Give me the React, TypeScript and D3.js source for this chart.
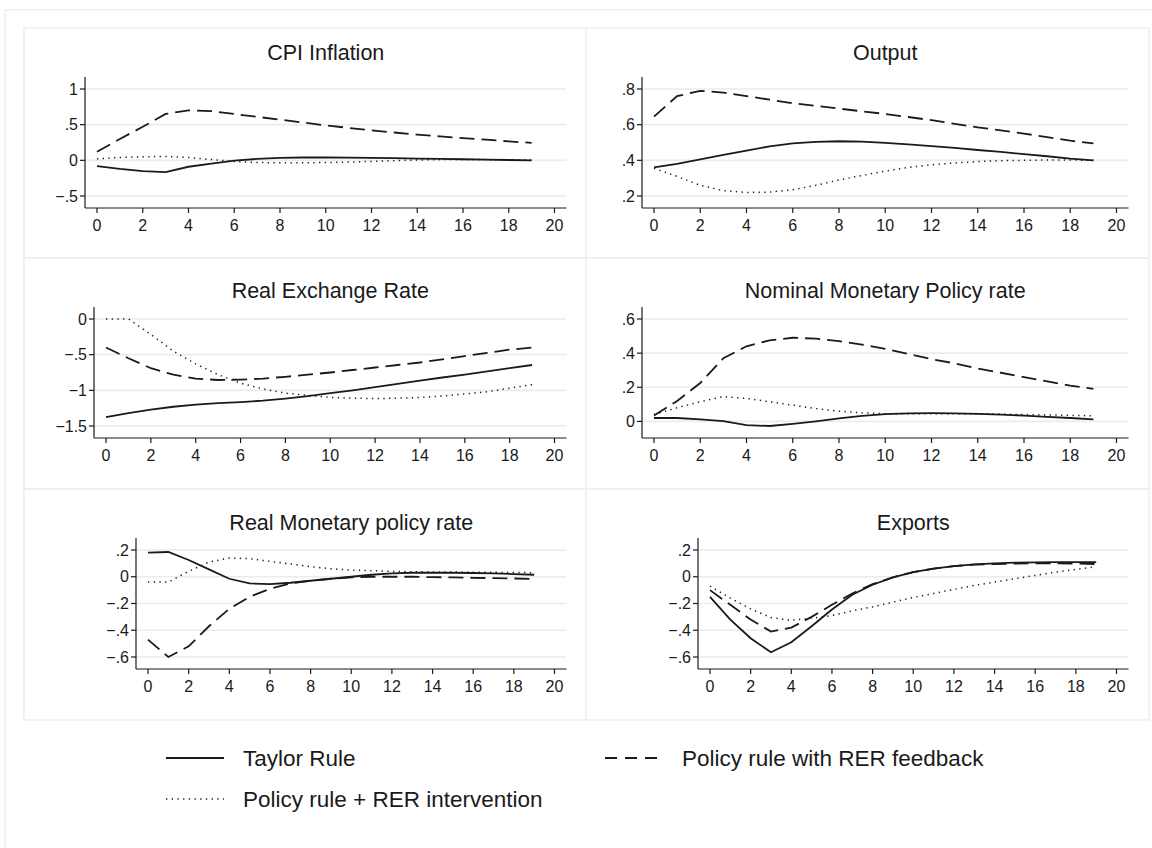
import * as d3 from 'd3';

// horizon (quarters)
const periods = [0, 1, 2, 3, 4, 5, 6, 7, 8, 9, 10, 11, 12, 13, 14, 15, 16, 17, 18, 19];
const xTicks = [0, 2, 4, 6, 8, 10, 12, 14, 16, 18, 20];

const seriesNames = ['Taylor Rule', 'Policy rule with RER feedback', 'Policy rule + RER intervention'];

// CPI Inflation
const cpiTaylor = [-0.08, -0.12, -0.15, -0.165, -0.09, -0.045, -0.005, 0.02, 0.035, 0.04, 0.04, 0.038, 0.035, 0.03, 0.025, 0.02, 0.015, 0.01, 0.005, 0.0];
const cpiFeedback = [0.12, 0.3, 0.47, 0.65, 0.7, 0.69, 0.65, 0.61, 0.57, 0.53, 0.49, 0.455, 0.42, 0.39, 0.36, 0.335, 0.31, 0.29, 0.265, 0.245];
const cpiIntervention = [0.02, 0.04, 0.05, 0.055, 0.04, 0.01, -0.015, -0.03, -0.035, -0.035, -0.03, -0.025, -0.015, -0.005, 0.005, 0.01, 0.01, 0.01, 0.005, 0.005];
const cpiTicks = [-0.5, 0, 0.5, 1];
const cpiTickLabels = ['−.5', '0', '.5', '1'];

// Output
const outTaylor = [0.36, 0.38, 0.405, 0.43, 0.455, 0.478, 0.495, 0.503, 0.507, 0.505, 0.498, 0.49, 0.48, 0.47, 0.458, 0.447, 0.435, 0.423, 0.41, 0.4];
const outFeedback = [0.645, 0.76, 0.79, 0.78, 0.76, 0.74, 0.72, 0.705, 0.69, 0.675, 0.66, 0.643, 0.625, 0.605, 0.585, 0.568, 0.55, 0.53, 0.51, 0.495];
const outIntervention = [0.355, 0.31, 0.26, 0.23, 0.22, 0.222, 0.235, 0.26, 0.29, 0.315, 0.34, 0.36, 0.375, 0.385, 0.393, 0.398, 0.4, 0.402, 0.402, 0.4];
const outTicks = [0.2, 0.4, 0.6, 0.8];
const outTickLabels = ['.2', '.4', '.6', '.8'];

// Real Exchange Rate
const rerTaylor = [-1.375, -1.32, -1.27, -1.23, -1.2, -1.18, -1.165, -1.145, -1.115, -1.08, -1.04, -1.0, -0.955, -0.91, -0.865, -0.82, -0.78, -0.735, -0.69, -0.645];
const rerFeedback = [-0.4, -0.55, -0.69, -0.78, -0.835, -0.855, -0.85, -0.835, -0.81, -0.78, -0.75, -0.715, -0.68, -0.645, -0.61, -0.565, -0.52, -0.475, -0.43, -0.4];
const rerIntervention = [0, 0, -0.215, -0.45, -0.63, -0.78, -0.9, -0.98, -1.04, -1.07, -1.1, -1.11, -1.115, -1.11, -1.1, -1.08, -1.05, -1.02, -0.97, -0.92];
const rerTicks = [-1.5, -1, -0.5, 0];
const rerTickLabels = ['−1.5', '−1', '−.5', '0'];

// Nominal Monetary Policy rate
const nomTaylor = [0.02, 0.02, 0.012, 0.002, -0.022, -0.027, -0.015, 0.0, 0.018, 0.032, 0.042, 0.047, 0.048, 0.047, 0.044, 0.04, 0.034, 0.027, 0.02, 0.012];
const nomFeedback = [0.035, 0.12, 0.225, 0.37, 0.44, 0.475, 0.49, 0.485, 0.47, 0.45, 0.425, 0.395, 0.365, 0.34, 0.31, 0.285, 0.26, 0.235, 0.21, 0.19];
const nomIntervention = [0.04, 0.08, 0.115, 0.145, 0.135, 0.115, 0.095, 0.075, 0.06, 0.05, 0.045, 0.045, 0.045, 0.045, 0.045, 0.043, 0.04, 0.038, 0.035, 0.033];
const nomTicks = [0, 0.2, 0.4, 0.6];
const nomTickLabels = ['0', '.2', '.4', '.6'];

// Real Monetary policy rate
const realTaylor = [0.18, 0.185, 0.125, 0.055, -0.015, -0.05, -0.055, -0.045, -0.03, -0.015, 0.0, 0.015, 0.025, 0.03, 0.03, 0.03, 0.028, 0.025, 0.02, 0.015];
const realFeedback = [-0.47, -0.6, -0.52, -0.37, -0.24, -0.15, -0.09, -0.05, -0.03, -0.015, -0.005, 0.0, 0.0, 0.0, -0.003, -0.005, -0.008, -0.01, -0.013, -0.017];
const realIntervention = [-0.04, -0.04, 0.04, 0.11, 0.14, 0.135, 0.115, 0.095, 0.075, 0.06, 0.05, 0.045, 0.04, 0.038, 0.036, 0.035, 0.034, 0.033, 0.032, 0.03];
const realTicks = [-0.6, -0.4, -0.2, 0, 0.2];
const realTickLabels = ['−.6', '−.4', '−.2', '0', '.2'];

// Exports
const expTaylor = [-0.15, -0.32, -0.46, -0.565, -0.49, -0.37, -0.245, -0.135, -0.06, -0.005, 0.035, 0.06, 0.08, 0.092, 0.1, 0.105, 0.108, 0.11, 0.11, 0.11];
const expFeedback = [-0.1, -0.21, -0.32, -0.41, -0.38, -0.3, -0.21, -0.125, -0.055, -0.005, 0.035, 0.06, 0.08, 0.09, 0.095, 0.098, 0.1, 0.1, 0.098, 0.095];
const expIntervention = [-0.07, -0.16, -0.24, -0.305, -0.325, -0.31, -0.29, -0.255, -0.225, -0.19, -0.155, -0.125, -0.095, -0.065, -0.04, -0.015, 0.01, 0.035, 0.055, 0.075];
const expTicks = [-0.6, -0.4, -0.2, 0, 0.2];
const expTickLabels = ['−.6', '−.4', '−.2', '0', '.2'];

const panels = [
  { title: 'CPI Inflation', series: [cpiTaylor, cpiFeedback, cpiIntervention], ticks: cpiTicks, labels: cpiTickLabels },
  { title: 'Output', series: [outTaylor, outFeedback, outIntervention], ticks: outTicks, labels: outTickLabels },
  { title: 'Real Exchange Rate', series: [rerTaylor, rerFeedback, rerIntervention], ticks: rerTicks, labels: rerTickLabels },
  { title: 'Nominal Monetary Policy rate', series: [nomTaylor, nomFeedback, nomIntervention], ticks: nomTicks, labels: nomTickLabels },
  { title: 'Real Monetary policy rate', series: [realTaylor, realFeedback, realIntervention], ticks: realTicks, labels: realTickLabels },
  { title: 'Exports', series: [expTaylor, expFeedback, expIntervention], ticks: expTicks, labels: expTickLabels },
];

// layout
const W = 1152;
const H = 848;
const colX = [24, 586, 1149];
const rowY = [28, 258, 489, 720];
const axisLeft = [85, 642, 94, 642, 136, 698];
const titleOffset = [24, 32, 33];
const FONT = '"Liberation Sans", Arial, Helvetica, sans-serif';
const FRAME = '#e9f0f2';
const GRID = '#e6eef1';
const INK = '#1a1a1a';
const styles = [
  { dash: null, width: 1.8 },
  { dash: '15 7', width: 1.8 },
  { dash: '1.3 4.4', width: 1.5 },
];

function Panel({ p, i }: { p: (typeof panels)[number]; i: number }) {
  const col = i % 2;
  const row = Math.floor(i / 2);
  const cx = colX[col];
  const cy = rowY[row];
  const left = axisLeft[i];
  const right = cx + 542.5;
  const top = cy + 49;
  const bottom = cy + 180;
  const inset = 12;

  const x = d3.scaleLinear().domain([0, 20]).range([left + inset, right - inset]);
  const ext = d3.extent([...p.ticks, ...p.series.flat()]) as [number, number];
  const y = d3.scaleLinear().domain(ext).range([bottom - inset, top + inset]);

  const line = d3
    .line<number>()
    .x((_, k) => x(periods[k]))
    .y((d) => y(d));

  return (
    <g>
      <text x={(left + right) / 2} y={cy + titleOffset[row]} dy="0.35em" textAnchor="middle" fontSize={21.5} fill={INK} fontFamily={FONT}>
        {p.title}
      </text>
      {p.ticks.map((t) => (
        <line key={'g' + t} x1={left} x2={right} y1={y(t)} y2={y(t)} stroke={GRID} strokeWidth={1.6} />
      ))}
      {p.series.map((s, k) => (
        <path
          key={k}
          d={line(s) || ''}
          fill="none"
          stroke={INK}
          strokeWidth={styles[k].width}
          strokeDasharray={styles[k].dash || undefined}
        />
      ))}
      <line x1={left} x2={left} y1={top} y2={bottom} stroke={INK} strokeWidth={1.2} />
      <line x1={left} x2={right} y1={bottom} y2={bottom} stroke={INK} strokeWidth={1.2} />
      {p.ticks.map((t, k) => (
        <g key={'y' + t}>
          <line x1={left - 5} x2={left} y1={y(t)} y2={y(t)} stroke={INK} strokeWidth={1.2} />
          <text x={left - 7} y={y(t)} dy="0.35em" textAnchor="end" fontSize={16} fill={INK} fontFamily={FONT}>
            {p.labels[k]}
          </text>
        </g>
      ))}
      {xTicks.map((t) => (
        <g key={'x' + t}>
          <line x1={x(t)} x2={x(t)} y1={bottom} y2={bottom + 5} stroke={INK} strokeWidth={1.2} />
          <text x={x(t)} y={bottom + 17} dy="0.35em" textAnchor="middle" fontSize={16} fill={INK} fontFamily={FONT}>
            {t}
          </text>
        </g>
      ))}
    </g>
  );
}

const legendPos = [
  { x: 166, y: 758 },
  { x: 605, y: 758 },
  { x: 166, y: 799 },
];

export default function App() {
  return (
    <svg width={W} height={H} style={{ position: 'absolute', left: 0, top: 0, background: '#fff' }}>
      <rect x={5} y={10} width={W + 10} height={H + 10} fill="#fff" stroke={FRAME} strokeWidth={1.5} />
      {[0, 1, 2].map((r) =>
        [0, 1].map((c) => (
          <rect
            key={r + '-' + c}
            x={colX[c]}
            y={rowY[r]}
            width={colX[c + 1] - colX[c]}
            height={rowY[r + 1] - rowY[r]}
            fill="#fff"
            stroke={FRAME}
            strokeWidth={1.5}
          />
        ))
      )}
      {panels.map((p, i) => (
        <Panel key={p.title} p={p} i={i} />
      ))}
      {seriesNames.map((name, k) => (
        <g key={name}>
          <line
            x1={legendPos[k].x}
            x2={legendPos[k].x + 58}
            y1={legendPos[k].y}
            y2={legendPos[k].y}
            stroke={INK}
            strokeWidth={styles[k].width}
            strokeDasharray={k === 1 ? '12 8' : styles[k].dash || undefined}
          />
          <text x={legendPos[k].x + 77} y={legendPos[k].y} dy="0.35em" fontSize={22.5} fill={INK} fontFamily={FONT}>
            {name}
          </text>
        </g>
      ))}
    </svg>
  );
}
